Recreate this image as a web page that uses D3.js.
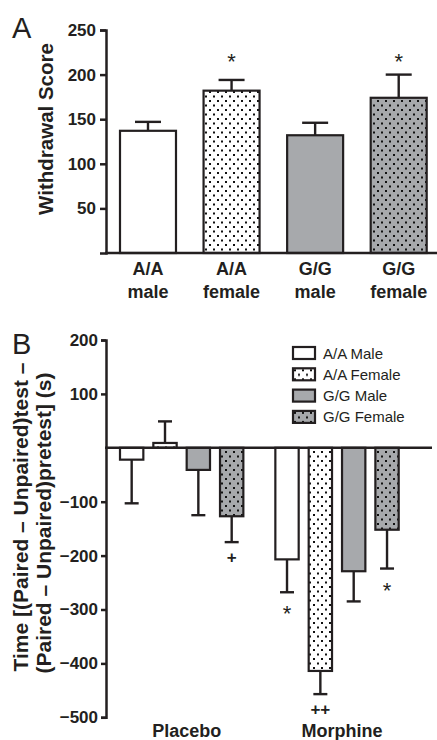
<!DOCTYPE html>
<html lang="en">
<head>
<meta charset="UTF-8">
<title>Withdrawal and place preference</title>
<script src="https://d3js.org/d3.v7.min.js"></script>
<style>
  body { margin: 0; background: #fff; }
  svg text { font-family: "Liberation Sans", Arial, sans-serif; fill: #231f20; }
</style>
</head>
<body>
<script>
  // ---- panel A data ----
  var groupsA = ["A/A male", "A/A female", "G/G male", "G/G female"];
  var labelTopA = ["A/A", "A/A", "G/G", "G/G"];
  var labelBotA = ["male", "female", "male", "female"];
  var meansA = [137, 182, 132, 174];
  var semA = [10, 12, 14, 26];
  var starsA = ["", "*", "", "*"];
  var ticksA = [50, 100, 150, 200, 250];

  // ---- panel B data ----
  var treatments = ["Placebo", "Morphine"];
  var series = ["A/A Male", "A/A Female", "G/G Male", "G/G Female"];
  var placebo = [-22, 9, -41, -127];
  var morphine = [-207, -414, -229, -152];
  var placeboSem = [81, 40, 84, 48];
  var morphineSem = [61, 43, 56, 72];
  var marksPlacebo = ["", "", "", "+"];
  var marksMorphine = ["*", "++", "", "*"];
  var ticksB = [200, 100, -100, -200, -300, -400, -500];

  var gray = "#a7a9ac";
  var ink = "#231f20";

  var svg = d3.select("body").append("svg")
    .attr("width", 437)
    .attr("height", 740);

  var defs = svg.append("defs");
  function dots(id, bg) {
    var p = defs.append("pattern")
      .attr("id", id)
      .attr("patternUnits", "userSpaceOnUse")
      .attr("width", 8).attr("height", 9);
    p.append("rect").attr("width", 8).attr("height", 9).attr("fill", bg);
    p.append("rect").attr("x", 1).attr("y", 1).attr("width", 2).attr("height", 2).attr("fill", "#111");
    p.append("rect").attr("x", 5).attr("y", 5.5).attr("width", 2).attr("height", 2).attr("fill", "#111");
  }
  dots("dotWhite", "#fff");
  dots("dotGray", gray);

  var fills = ["#fff", "url(#dotWhite)", gray, "url(#dotGray)"];

  // ================= Panel A =================
  var yA = d3.scaleLinear().domain([0, 250]).range([253, 30]);
  var xA = d3.scaleBand().domain(groupsA).range([120, 426.7]).paddingInner(0.33);

  var gA = svg.append("g");

  gA.append("text").attr("x", 12).attr("y", 38)
    .style("font-size", "29px").text("A");

  var axA = gA.append("g")
    .attr("transform", "translate(106,0)")
    .call(d3.axisLeft(yA).tickValues(ticksA).tickSize(6).tickPadding(4));
  axA.select(".domain").attr("stroke", ink).attr("stroke-width", 2.5);
  axA.selectAll(".tick line").attr("stroke", ink).attr("stroke-width", 2.5);
  axA.selectAll(".tick text")
    .style("font-size", "17px").style("font-weight", "bold").attr("fill", ink);

  gA.append("text")
    .attr("transform", "translate(53,129) rotate(-90)")
    .attr("text-anchor", "middle")
    .style("font-size", "20.5px").style("font-weight", "bold")
    .text("Withdrawal Score");

  gA.selectAll(".errA")
    .data(groupsA)
    .join("g")
    .each(function(d, i) {
      var cx = xA(d) + xA.bandwidth() / 2;
      var g = d3.select(this);
      g.append("line").attr("x1", cx).attr("x2", cx)
        .attr("y1", yA(meansA[i])).attr("y2", yA(meansA[i] + semA[i]))
        .attr("stroke", ink).attr("stroke-width", 2.4);
      g.append("line").attr("x1", cx - 13).attr("x2", cx + 13)
        .attr("y1", yA(meansA[i] + semA[i])).attr("y2", yA(meansA[i] + semA[i]))
        .attr("stroke", ink).attr("stroke-width", 2.4);
    });

  gA.selectAll(".barA")
    .data(groupsA)
    .join("rect")
    .attr("x", d => xA(d))
    .attr("y", (d, i) => yA(meansA[i]))
    .attr("width", xA.bandwidth())
    .attr("height", (d, i) => yA(0) - yA(meansA[i]))
    .attr("fill", (d, i) => fills[i])
    .attr("stroke", ink)
    .attr("stroke-width", 2.2);

  gA.append("line")
    .attr("x1", 105).attr("x2", 437)
    .attr("y1", yA(0)).attr("y2", yA(0))
    .attr("stroke", ink).attr("stroke-width", 2.5);

  gA.selectAll(".starA")
    .data(groupsA)
    .join("text")
    .attr("x", d => xA(d) + xA.bandwidth() / 2)
    .attr("y", yA(206))
    .attr("text-anchor", "middle")
    .style("font-size", "22px")
    .text((d, i) => starsA[i]);

  gA.selectAll(".labTopA")
    .data(groupsA)
    .join("text")
    .attr("x", d => xA(d) + xA.bandwidth() / 2)
    .attr("y", 275)
    .attr("text-anchor", "middle")
    .style("font-size", "18px").style("font-weight", "bold")
    .text((d, i) => labelTopA[i]);

  gA.selectAll(".labBotA")
    .data(groupsA)
    .join("text")
    .attr("x", d => xA(d) + xA.bandwidth() / 2)
    .attr("y", 298)
    .attr("text-anchor", "middle")
    .style("font-size", "18px").style("font-weight", "bold")
    .text((d, i) => labelBotA[i]);

  // ================= Panel B =================
  var yB = d3.scaleLinear().domain([-500, 200]).range([717.3, 340]);
  var x0 = d3.scaleBand().domain(treatments).range([120, 398.7]).paddingInner(0.206);
  var x1 = d3.scaleBand().domain(series).range([0, x0.bandwidth()]).paddingInner(0.3);

  var valuesB = [placebo, morphine];
  var semB = [placeboSem, morphineSem];
  var marksB = [marksPlacebo, marksMorphine];

  var gB = svg.append("g");

  gB.append("text").attr("x", 12).attr("y", 354)
    .style("font-size", "29px").text("B");

  var axB = gB.append("g")
    .attr("transform", "translate(106,0)")
    .call(d3.axisLeft(yB).tickValues(ticksB).tickSize(5).tickPadding(3));
  axB.select(".domain").attr("stroke", ink).attr("stroke-width", 2.5);
  axB.selectAll(".tick line").attr("stroke", ink).attr("stroke-width", 2.5);
  axB.selectAll(".tick text")
    .style("font-size", "17px").style("font-weight", "bold").attr("fill", ink);

  gB.append("text")
    .attr("transform", "translate(28,517) rotate(-90)")
    .attr("text-anchor", "middle")
    .style("font-size", "21px").style("font-weight", "bold")
    .text("Time [(Paired \u2013 Unpaired)test \u2013");
  gB.append("text")
    .attr("transform", "translate(51,523) rotate(-90)")
    .attr("text-anchor", "middle")
    .style("font-size", "21px").style("font-weight", "bold")
    .text("(Paired \u2013 Unpaired)pretest] (s)");

  var cellsB = [];
  treatments.forEach(function(t, ti) {
    series.forEach(function(s, si) {
      cellsB.push({ t: t, s: s, si: si, v: valuesB[ti][si], e: semB[ti][si], m: marksB[ti][si] });
    });
  });

  var cx = d => x0(d.t) + x1(d.s) + x1.bandwidth() / 2;
  var tip = d => d.v + (d.v < 0 ? -d.e : d.e);

  var errB = gB.selectAll(".errB")
    .data(cellsB)
    .join("g");
  errB.append("line")
    .attr("x1", cx).attr("x2", cx)
    .attr("y1", d => yB(d.v)).attr("y2", d => yB(tip(d)))
    .attr("stroke", ink).attr("stroke-width", 2.4);
  errB.append("line")
    .attr("x1", d => cx(d) - 7).attr("x2", d => cx(d) + 7)
    .attr("y1", d => yB(tip(d))).attr("y2", d => yB(tip(d)))
    .attr("stroke", ink).attr("stroke-width", 2.4);

  gB.selectAll(".barB")
    .data(cellsB)
    .join("rect")
    .attr("x", d => x0(d.t) + x1(d.s))
    .attr("y", d => yB(Math.max(0, d.v)))
    .attr("width", x1.bandwidth())
    .attr("height", d => Math.abs(yB(d.v) - yB(0)))
    .attr("fill", d => fills[d.si])
    .attr("stroke", ink)
    .attr("stroke-width", 2.2);

  gB.append("line")
    .attr("x1", 105).attr("x2", 432)
    .attr("y1", yB(0)).attr("y2", yB(0))
    .attr("stroke", ink).attr("stroke-width", 2.5);

  gB.selectAll(".markB")
    .data(cellsB.filter(d => d.m))
    .join("text")
    .attr("x", cx)
    .attr("y", d => yB(tip(d)) + (d.m === "*" ? 29 : 21))
    .attr("text-anchor", "middle")
    .style("font-size", d => d.m === "*" ? "22px" : "17px")
    .style("font-weight", d => d.m === "*" ? "normal" : "bold")
    .text(d => d.m);

  gB.selectAll(".grpB")
    .data(treatments)
    .join("text")
    .attr("x", d => x0(d) + x0.bandwidth() / 2 + 5)
    .attr("y", 737)
    .attr("text-anchor", "middle")
    .style("font-size", "18px").style("font-weight", "bold")
    .text(d => d);

  // legend
  var lg = gB.append("g").attr("transform", "translate(293,347)");
  var rows = lg.selectAll("g")
    .data(series)
    .join("g")
    .attr("transform", (d, i) => `translate(0,${i * 21.3})`);
  rows.append("rect")
    .attr("width", 22).attr("height", 12)
    .attr("fill", (d, i) => fills[i])
    .attr("stroke", ink).attr("stroke-width", 2.2);
  rows.append("text")
    .attr("x", 30).attr("y", 11.5)
    .style("font-size", "15px")
    .text(d => d);
</script>
</body>
</html>
